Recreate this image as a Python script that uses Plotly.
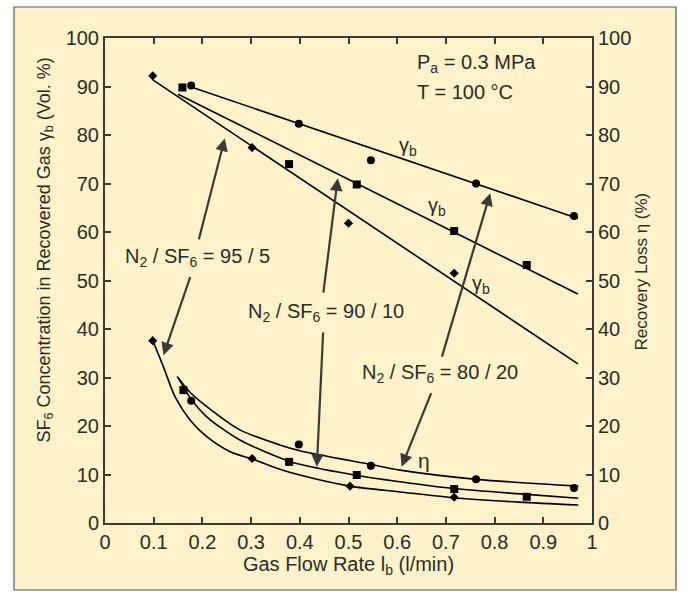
import plotly.graph_objects as go

# ---------------- data ----------------
# gamma_b markers (SF6 concentration in recovered gas, left axis)
g95_x = [0.098, 0.302, 0.500, 0.717]
g95_y = [92.2, 77.4, 61.8, 51.5]
g90_x = [0.159, 0.378, 0.517, 0.717, 0.866]
g90_y = [89.8, 74.0, 69.8, 60.2, 53.2]
g80_x = [0.177, 0.398, 0.546, 0.762, 0.963]
g80_y = [90.2, 82.3, 74.8, 70.0, 63.3]

# gamma_b straight fit lines (end points)
g95_fit_x = [0.099, 0.971]
g95_fit_y = [91.3, 32.8]
g90_fit_x = [0.150, 0.971]
g90_fit_y = [88.4, 47.2]
g80_fit_x = [0.180, 0.971]
g80_fit_y = [89.8, 62.8]

# eta markers (recovery loss, right axis)
e95_x = [0.098, 0.302, 0.503, 0.717]
e95_y = [37.6, 13.3, 7.6, 5.3]
e90_x = [0.161, 0.378, 0.517, 0.717, 0.866]
e90_y = [27.4, 12.6, 9.9, 7.0, 5.4]
e80_x = [0.177, 0.398, 0.546, 0.762, 0.963]
e80_y = [25.2, 16.2, 11.8, 9.0, 7.2]

# eta fit curves
e95_fit_x = [0.099, 0.120, 0.144, 0.175, 0.209, 0.257, 0.305, 0.359, 0.400, 0.503, 0.606, 0.715, 0.850, 0.972]
e95_fit_y = [37.4, 32.2, 26.0, 21.2, 17.8, 14.7, 13.1, 11.1, 9.9, 7.6, 6.4, 5.2, 4.3, 3.7]
e90_fit_x = [0.151, 0.175, 0.209, 0.277, 0.376, 0.400, 0.517, 0.606, 0.715, 0.866, 0.972]
e90_fit_y = [29.8, 25.8, 21.9, 17.1, 12.8, 12.1, 9.8, 8.5, 7.1, 5.9, 5.1]
e80_fit_x = [0.148, 0.175, 0.209, 0.277, 0.359, 0.400, 0.544, 0.606, 0.763, 0.972]
e80_fit_y = [30.2, 26.9, 24.0, 19.2, 16.1, 14.9, 12.1, 10.9, 9.0, 7.6]

x_ticks = [0, 0.1, 0.2, 0.3, 0.4, 0.5, 0.6, 0.7, 0.8, 0.9, 1]
x_tick_text = ["0", "0.1", "0.2", "0.3", "0.4", "0.5", "0.6", "0.7", "0.8", "0.9", "1"]
y_ticks = [0, 10, 20, 30, 40, 50, 60, 70, 80, 90, 100]

# mixture labels and their arrows: (tail x, tail y, tip x, tip y)
mix_labels = ["N<sub>2</sub> / SF<sub>6</sub> = 95 / 5",
              "N<sub>2</sub> / SF<sub>6</sub> = 90 / 10",
              "N<sub>2</sub> / SF<sub>6</sub> = 80 / 20"]
mix_label_xy = [(0.189, 54.8), (0.453, 43.4), (0.687, 30.9)]
mix_arrows = [
    [(0.192, 58.2, 0.246, 79.3), (0.176, 51.0, 0.120, 34.6)],
    [(0.448, 47.2, 0.478, 71.1), (0.448, 39.6, 0.435, 11.6)],
    [(0.691, 34.0, 0.791, 68.0), (0.671, 27.1, 0.609, 11.6)],
]
gamma_label_xy = [(0.623, 77.6), (0.681, 65.2), (0.773, 49.1)]
eta_label_xy = (0.654, 12.8)

x_title = "Gas Flow Rate l<sub>b</sub> (l/min)"
y_title = "SF<sub>6</sub> Concentration in Recovered Gas γ<sub>b</sub> (Vol. %)"
y2_title = "Recovery Loss η (%)"

# ---------------- figure ----------------
BG = "#FDF2C9"
INK = "#2b2b2b"
FONT = "Liberation Sans"
FS = 20

fig = go.Figure()

line_style = dict(color="black", width=1.6)
for fx, fy in [(g95_fit_x, g95_fit_y), (g90_fit_x, g90_fit_y), (g80_fit_x, g80_fit_y)]:
    fig.add_trace(go.Scatter(x=fx, y=fy, mode="lines", line=line_style,
                             showlegend=False, hoverinfo="skip"))
for fx, fy in [(e95_fit_x, e95_fit_y), (e90_fit_x, e90_fit_y), (e80_fit_x, e80_fit_y)]:
    fig.add_trace(go.Scatter(x=fx, y=fy, mode="lines", yaxis="y2",
                             line=dict(color="black", width=1.6, shape="spline", smoothing=0.8),
                             showlegend=False, hoverinfo="skip"))

mk95 = dict(symbol="diamond", size=7, color="black")
mk90 = dict(symbol="square", size=8, color="black")
mk80 = dict(symbol="circle", size=8, color="black")
fig.add_trace(go.Scatter(x=g95_x, y=g95_y, mode="markers", marker=mk95, name="95/5 γb", showlegend=False))
fig.add_trace(go.Scatter(x=g90_x, y=g90_y, mode="markers", marker=mk90, name="90/10 γb", showlegend=False))
fig.add_trace(go.Scatter(x=g80_x, y=g80_y, mode="markers", marker=mk80, name="80/20 γb", showlegend=False))
fig.add_trace(go.Scatter(x=e95_x, y=e95_y, mode="markers", marker=mk95, yaxis="y2", name="95/5 η", showlegend=False))
fig.add_trace(go.Scatter(x=e90_x, y=e90_y, mode="markers", marker=mk90, yaxis="y2", name="90/10 η", showlegend=False))
fig.add_trace(go.Scatter(x=e80_x, y=e80_y, mode="markers", marker=mk80, yaxis="y2", name="80/20 η", showlegend=False))

# outer panel geometry
pl, pr, pt, pb = 105, 96, 38, 78
pw, ph = 688 - pl - pr, 601 - pt - pb
def px2paper_x(px): return (px - pl) / pw
def px2paper_y(py): return (601 - pb - py) / ph

annotations = []
for (lbl, (lx, ly), arrows) in zip(mix_labels, mix_label_xy, mix_arrows):
    annotations.append(dict(x=lx, y=ly, xref="x", yref="y", text=lbl, showarrow=False,
                            font=dict(family=FONT, size=FS, color=INK)))
    for (tx, ty, hx, hy) in arrows:
        annotations.append(dict(x=hx, y=hy, ax=tx, ay=ty, xref="x", yref="y", axref="x", ayref="y",
                                text="", showarrow=True, arrowhead=2, arrowsize=1.15,
                                arrowwidth=2.2, arrowcolor="#3a3a3a"))
for (gx, gy) in gamma_label_xy:
    annotations.append(dict(x=gx, y=gy, xref="x", yref="y", text="γ<sub>b</sub>", showarrow=False,
                            font=dict(family=FONT, size=FS, color=INK)))
annotations.append(dict(x=eta_label_xy[0], y=eta_label_xy[1], xref="x", yref="y", text="η",
                        showarrow=False, font=dict(family=FONT, size=FS + 1, color=INK)))
annotations.append(dict(x=0.637, y=94.8, xref="x", yref="y", text="P<sub>a</sub> = 0.3 MPa",
                        xanchor="left", showarrow=False, font=dict(family=FONT, size=FS, color=INK)))
annotations.append(dict(x=0.637, y=88.9, xref="x", yref="y", text="T = 100 °C",
                        xanchor="left", showarrow=False, font=dict(family=FONT, size=FS, color=INK)))
# axis titles for the two y axes (placed as in the reference)
annotations.append(dict(x=px2paper_x(31), y=px2paper_y(250), xref="paper", yref="paper",
                        text=y_title, textangle=-90, showarrow=False,
                        font=dict(family=FONT, size=18, color=INK)))
annotations.append(dict(x=px2paper_x(652), y=px2paper_y(272), xref="paper", yref="paper",
                        text=y2_title, textangle=-90, showarrow=False,
                        font=dict(family=FONT, size=17, color=INK)))

shapes = [dict(type="rect", xref="paper", yref="paper", layer="below",
               x0=px2paper_x(14), x1=px2paper_x(676), y0=px2paper_y(590), y1=px2paper_y(7),
               fillcolor=BG, line=dict(color="#555555", width=1.2))]

axis_common = dict(showline=True, linecolor="#3a3a3a", linewidth=2, ticks="inside", ticklen=6,
                   tickwidth=1.5, tickcolor="#3a3a3a", showgrid=False, zeroline=False,
                   tickfont=dict(family=FONT, size=FS, color=INK))

fig.update_layout(
    width=688, height=601,
    margin=dict(l=pl, r=pr, t=pt, b=pb),
    paper_bgcolor="white", plot_bgcolor=BG,
    showlegend=False,
    font=dict(family=FONT, color=INK),
    xaxis=dict(range=[0, 1], tickvals=x_ticks, ticktext=x_tick_text, mirror="ticks",
               title=dict(text=x_title, standoff=4,
                          font=dict(family=FONT, size=FS, color=INK)),
               **axis_common),
    yaxis=dict(range=[0, 100], tickvals=y_ticks, **axis_common),
    yaxis2=dict(range=[0, 100], tickvals=y_ticks, overlaying="y", side="right", **axis_common),
    annotations=annotations,
    shapes=shapes,
)

fig.write_html("out.html")
